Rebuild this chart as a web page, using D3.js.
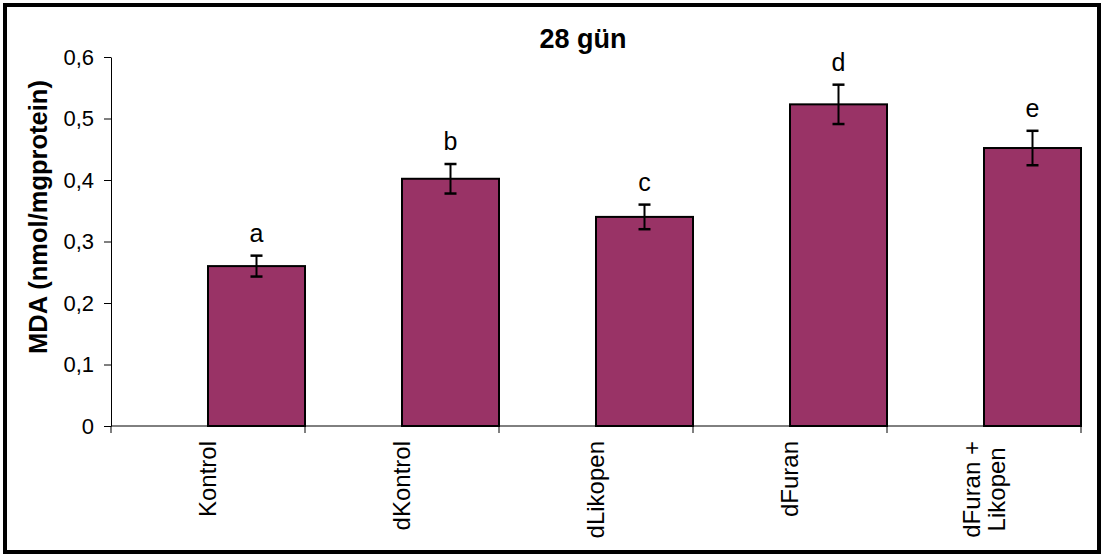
<!DOCTYPE html>
<html>
<head>
<meta charset="utf-8">
<script src="https://cdn.jsdelivr.net/npm/d3@7"></script>
<style>
  html, body { margin: 0; padding: 0; background: #fff; }
  svg text { font-family: "Liberation Sans", Arial, sans-serif; }
</style>
</head>
<body>
<svg id="chart" width="1103" height="556"></svg>
<script>
// ---- data ----
const categories = [["Kontrol"], ["dKontrol"], ["dLikopen"], ["dFuran"], ["dFuran +", "Likopen"]];
const values = [0.26, 0.402, 0.34, 0.523, 0.452];
const errors = [0.017, 0.024, 0.02, 0.032, 0.028];
const letters = ["a", "b", "c", "d", "e"];
const yTicks = [0, 0.1, 0.2, 0.3, 0.4, 0.5, 0.6];
const titleText = "28 gün";
const yTitle = "MDA (nmol/mgprotein)";

const svg = d3.select("#chart");
const plot = { left: 111, right: 1081, top: 57, bottom: 426 };

// frame
svg.append("rect").attr("x", 5).attr("y", 5).attr("width", 1094).attr("height", 547)
  .attr("fill", "#fff").attr("stroke", "#000").attr("stroke-width", 4);

const keys = categories.map((c, i) => i);
const x = d3.scaleBand().domain(keys).range([plot.left, plot.right]).padding(0);
const y = d3.scaleLinear().domain([0, 0.6]).range([plot.bottom, plot.top]);
const bw = x.bandwidth();

// y axis
const fmt = v => v === 0 ? "0" : d3.format(".1f")(v).replace(".", ",");
const yAxis = svg.append("g").attr("transform", `translate(${plot.left},0)`)
  .call(d3.axisLeft(y).tickValues(yTicks).tickFormat(fmt).tickSize(7).tickSizeOuter(0).tickPadding(10));
yAxis.select(".domain").attr("stroke", "#000").attr("stroke-width", 1);
yAxis.selectAll(".tick line").attr("stroke", "#000");
yAxis.selectAll(".tick text").attr("font-size", 22).attr("fill", "#000")
  .style("font-family", '"Liberation Sans", Arial, sans-serif');

// y axis extension below the baseline (tick)
svg.append("line").attr("x1", plot.left).attr("x2", plot.left)
  .attr("y1", plot.bottom).attr("y2", plot.bottom + 7).attr("stroke", "#000");

// bars (right half of each category)
svg.append("g").selectAll("rect").data(values).join("rect")
  .attr("x", (d, i) => x(i) + bw / 2)
  .attr("y", d => y(d))
  .attr("width", bw / 2)
  .attr("height", d => y(0) - y(d))
  .attr("fill", "#993366")
  .attr("stroke", "#000")
  .attr("stroke-width", 2);

// x axis line
svg.append("line").attr("x1", plot.left).attr("x2", plot.right)
  .attr("y1", y(0)).attr("y2", y(0)).attr("stroke", "#000").attr("stroke-width", 1);
// boundary ticks
const bounds = keys.map(k => x(k) + bw);
svg.append("g").selectAll("line").data(bounds).join("line")
  .attr("x1", d => d).attr("x2", d => d)
  .attr("y1", y(0)).attr("y2", y(0) + 7)
  .attr("stroke", "#000");

// error bars
const eg = svg.append("g");
values.forEach((v, i) => {
  const cx = x(i) + bw * 0.75;
  const t = y(v + errors[i]), b = y(v - errors[i]);
  eg.append("line").attr("x1", cx).attr("x2", cx).attr("y1", t).attr("y2", b)
    .attr("stroke", "#000").attr("stroke-width", 2);
  [t, b].forEach(yy => eg.append("line").attr("x1", cx - 6).attr("x2", cx + 6)
    .attr("y1", yy).attr("y2", yy).attr("stroke", "#000").attr("stroke-width", 2.5));
  // significance letters
  svg.append("text").attr("x", cx).attr("y", t - 14)
    .attr("text-anchor", "middle").attr("font-size", 25).attr("fill", "#000")
    .text(letters[i]);
});

// category labels (rotated)
categories.forEach((lines, i) => {
  const cx = x(i) + bw / 2;
  const g = svg.append("g");
  const texts = lines.map((ln, j) => g.append("text")
    .attr("font-size", 24).attr("fill", "#000").attr("text-anchor", "middle").text(ln));
  const maxLen = d3.max(texts, t => t.node().getComputedTextLength());
  const lineH = 25;
  const n = lines.length;
  texts.forEach((t, j) => {
    const off = (j - (n - 1) / 2) * lineH;
    const px = cx + off + 8;   // baseline position
    const py = y(0) + 15 + maxLen / 2;
    t.attr("transform", `translate(${px},${py}) rotate(-90)`);
  });
});

// title
svg.append("text").attr("x", 583).attr("y", 48).attr("text-anchor", "middle")
  .attr("font-size", 27).attr("font-weight", "bold").attr("fill", "#000").text(titleText);

// y title
svg.append("text").attr("transform", `translate(47,217) rotate(-90)`)
  .attr("text-anchor", "middle").attr("font-size", 25.5).attr("font-weight", "bold")
  .attr("fill", "#000").text(yTitle);
</script>
</body>
</html>
